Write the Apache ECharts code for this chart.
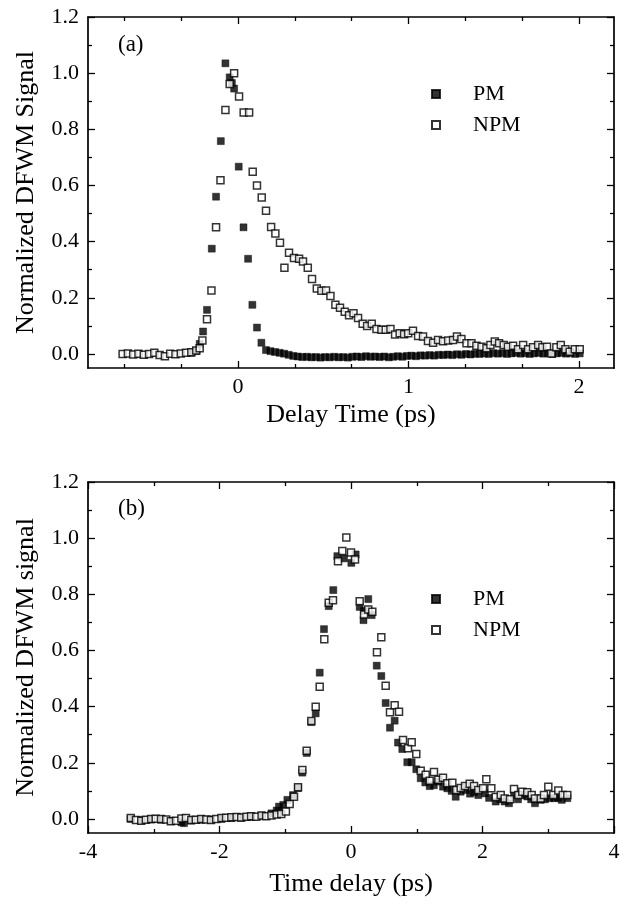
<!DOCTYPE html>
<html>
<head>
<meta charset="utf-8">
<script src="https://cdn.jsdelivr.net/npm/echarts@6/dist/echarts.min.js"></script>
<style>html,body{margin:0;padding:0;background:#fff}#c{width:624px;height:907px}</style>
</head>
<body>
<div id="c"></div>
<script>
// ---------- Panel (a) data: [delay time (ps), normalized signal] ----------
const pmA = [[-0.274,0.004],[-0.245,0.010],[-0.225,0.036],[-0.205,0.080],[-0.182,0.157],[-0.154,0.375],[-0.129,0.560],[-0.101,0.758],[-0.074,1.035],[-0.049,0.985],[-0.036,0.965],[-0.023,0.945],[0.004,0.667],[0.032,0.451],[0.059,0.339],[0.084,0.175],[0.111,0.094],[0.137,0.040],
[0.164,0.014],[0.190,0.010],[0.217,0.007],[0.244,0.004],[0.270,0.001],[0.297,-0.003],[0.324,-0.007],[0.350,-0.009],[0.377,-0.011],[0.404,-0.010],[0.430,-0.012],[0.457,-0.011],[0.484,-0.013],[0.510,-0.011],[0.537,-0.012],[0.564,-0.010],[0.590,-0.012],[0.617,-0.011],[0.644,-0.013],[0.670,-0.010],[0.697,-0.009],[0.724,-0.011],[0.750,-0.008],[0.777,-0.010],[0.804,-0.009],[0.830,-0.011],[0.857,-0.009],[0.884,-0.012],[0.910,-0.010],[0.937,-0.008],[0.964,-0.010],[0.990,-0.007],[1.017,-0.006],[1.044,-0.008],[1.070,-0.005],[1.097,-0.006],[1.124,-0.004],[1.150,-0.006],[1.177,-0.003],[1.204,-0.004],[1.230,-0.002],[1.257,-0.004],[1.284,-0.001],[1.310,-0.003],[1.337,0.000],[1.364,-0.002],[1.390,0.001],[1.417,0.000],[1.444,0.002],[1.470,0.000],[1.497,0.003],[1.524,0.001],[1.550,0.003],[1.577,0.000],[1.604,0.002],[1.630,0.004],[1.657,0.001],[1.684,0.003],[1.710,0.000],[1.737,0.002],[1.764,0.004],[1.790,0.001],[1.817,0.003],[1.844,0.000],[1.870,0.002],[1.897,0.004],[1.924,0.001],[1.950,0.003],[1.977,0.000],[2.004,0.002]];

const npmA = [[-0.677,0.000],[-0.646,0.002],[-0.615,-0.002],[-0.584,0.001],[-0.553,-0.003],[-0.522,0.000],[-0.491,0.004],[-0.460,-0.004],[-0.429,-0.008],[-0.398,0.001],[-0.367,-0.001],[-0.336,0.002],[-0.305,0.004],[-0.274,0.006],[-0.245,0.012],[-0.225,0.020],[-0.209,0.048],[-0.182,0.124],[-0.156,0.226],[-0.129,0.451],[-0.103,0.619],[-0.074,0.869],[-0.049,0.961],[-0.023,1.000],[0.006,0.917],[0.033,0.860],[0.065,0.860],[0.086,0.649],[0.111,0.600],[0.139,0.557],[0.164,0.510],[0.194,0.452],[0.219,0.429],[0.246,0.396],[0.272,0.307],[0.299,0.360],[0.328,0.342],[0.358,0.339],[0.381,0.329],[0.409,0.307],[0.434,0.267],[0.462,0.233],[0.489,0.225],[0.516,0.226],[0.542,0.206],[0.571,0.175],[0.598,0.165],[0.626,0.150],[0.651,0.138],[0.677,0.145],[0.704,0.128],[0.731,0.108],[0.757,0.100],[0.784,0.108],[0.812,0.089],[0.841,0.086],[0.866,0.086],[0.894,0.089],[0.921,0.069],[0.948,0.074],[0.974,0.070],[0.998,0.074],[1.026,0.083],[1.056,0.064],[1.085,0.062],[1.114,0.046],[1.144,0.040],[1.173,0.050],[1.202,0.045],[1.232,0.048],[1.261,0.050],[1.284,0.062],[1.310,0.053],[1.340,0.038],[1.369,0.038],[1.398,0.029],[1.428,0.026],[1.457,0.020],[1.480,0.032],[1.506,0.044],[1.531,0.038],[1.558,0.032],[1.583,0.026],[1.613,0.029],[1.642,0.017],[1.672,0.032],[1.701,0.017],[1.730,0.024],[1.760,0.032],[1.785,0.024],[1.812,0.026],[1.838,0.002],[1.867,0.024],[1.893,0.032],[1.920,0.017],[1.945,0.008],[1.975,0.017],[2.004,0.017]];

// ---------- Panel (b) data: [time delay (ps), normalized signal] ----------
const pmB = [[-3.35,0.000],[-3.19,-0.004],[-3.04,-0.002],[-2.89,-0.003],[-2.74,-0.006],[-2.58,-0.012],[-2.54,-0.015],[-2.43,-0.006],[-2.28,-0.003],[-2.13,-0.002],[-1.97,0.000],[-1.82,0.003],[-1.67,0.004],[-1.52,0.008],[-1.36,0.012],[-1.21,0.020],[-1.13,0.030],[-1.095,0.044],[-1.03,0.050],[-0.968,0.068],[-0.882,0.085],[-0.806,0.110],[-0.740,0.165],[-0.674,0.235],[-0.603,0.345],[-0.537,0.376],[-0.476,0.521],[-0.411,0.676],[-0.339,0.758],[-0.269,0.815],[-0.208,0.936],[-0.106,0.928],[0.005,0.912],[0.071,0.942],[0.132,0.755],[0.190,0.708],[0.200,0.741],[0.263,0.783],[0.315,0.726],[0.391,0.546],[0.461,0.509],[0.527,0.413],[0.593,0.325],[0.664,0.350],[0.715,0.272],[0.780,0.249],[0.856,0.202],[0.923,0.202],[0.993,0.177],[1.060,0.145],[1.130,0.130],[1.197,0.117],[1.260,0.120],[1.328,0.133],[1.400,0.115],[1.465,0.109],[1.530,0.100],[1.592,0.079],[1.668,0.097],[1.744,0.103],[1.810,0.090],[1.870,0.095],[1.936,0.085],[2.038,0.091],[2.100,0.075],[2.201,0.062],[2.270,0.070],[2.337,0.062],[2.403,0.056],[2.479,0.085],[2.540,0.070],[2.605,0.085],[2.680,0.080],[2.740,0.070],[2.798,0.056],[2.885,0.068],[2.950,0.070],[3.022,0.074],[3.092,0.074],[3.150,0.075],[3.205,0.068],[3.290,0.074]];

const npmB = [[-3.35,0.003],[-3.27,-0.004],[-3.19,-0.006],[-3.12,-0.003],[-3.04,0.000],[-2.97,0.001],[-2.89,0.000],[-2.81,-0.002],[-2.74,-0.008],[-2.66,-0.006],[-2.58,0.002],[-2.51,0.003],[-2.43,-0.004],[-2.36,-0.003],[-2.28,0.000],[-2.20,-0.002],[-2.13,-0.004],[-2.05,0.000],[-1.97,0.003],[-1.90,0.004],[-1.82,0.006],[-1.74,0.007],[-1.67,0.005],[-1.59,0.008],[-1.52,0.010],[-1.44,0.008],[-1.36,0.012],[-1.29,0.010],[-1.21,0.012],[-1.13,0.016],[-1.06,0.018],[-0.99,0.027],[-0.933,0.053],[-0.867,0.079],[-0.806,0.113],[-0.740,0.174],[-0.674,0.243],[-0.603,0.349],[-0.537,0.400],[-0.476,0.471],[-0.406,0.640],[-0.339,0.770],[-0.274,0.779],[-0.198,0.918],[-0.132,0.954],[-0.071,1.002],[0.000,0.949],[0.061,0.924],[0.132,0.775],[0.198,0.728],[0.263,0.746],[0.324,0.738],[0.395,0.594],[0.461,0.647],[0.527,0.474],[0.593,0.380],[0.664,0.405],[0.730,0.382],[0.791,0.281],[0.867,0.252],[0.923,0.273],[0.993,0.231],[1.060,0.172],[1.136,0.157],[1.197,0.136],[1.262,0.167],[1.328,0.140],[1.399,0.147],[1.465,0.127],[1.541,0.129],[1.601,0.103],[1.668,0.110],[1.734,0.117],[1.805,0.125],[1.871,0.117],[1.936,0.103],[2.008,0.109],[2.058,0.141],[2.134,0.109],[2.201,0.078],[2.277,0.085],[2.337,0.073],[2.418,0.070],[2.479,0.107],[2.545,0.085],[2.605,0.097],[2.681,0.095],[2.748,0.085],[2.798,0.073],[2.885,0.073],[2.935,0.085],[3.001,0.115],[3.077,0.085],[3.153,0.101],[3.220,0.085],[3.290,0.085]];

// ---------- Tick values ----------
const xTicksA = [0, 1, 2];
const xMinorA = [-2/3, -1/3, 1/3, 2/3, 4/3, 5/3];
const xTicksB = [-4, -2, 0, 2, 4];
const xMinorB = [-3, -1, 1, 3];
const yTicks = [0, 0.2, 0.4, 0.6, 0.8, 1.0, 1.2];
const yMinor = [0.1, 0.3, 0.5, 0.7, 0.9, 1.1];

const FONT = 'Liberation Serif';
const BLACK = '#000';

function axisSet(kind, gi, min, max, majors, minors, fmt, name, nameGap) {
  const pos = kind === 'x' ? ['bottom', 'top'] : ['left', 'right'];
  const base = {type: 'value', gridIndex: gi, min: min, max: max, splitLine: {show: false}};
  const line = {show: true, onZero: false, lineStyle: {color: BLACK, width: 1.7}};
  const noLine = {show: false, onZero: false};
  const tickStyle = {color: BLACK, width: 1.3};
  return [
    Object.assign({}, base, {
      position: pos[0], axisLine: line,
      axisTick: {show: true, inside: true, length: 7, customValues: majors, lineStyle: tickStyle},
      axisLabel: {show: true, customValues: majors, formatter: fmt, color: BLACK, fontFamily: FONT, fontSize: 22, margin: kind === 'x' ? 8 : 9},
      name: name, nameLocation: 'middle', nameGap: nameGap,
      nameTextStyle: {color: BLACK, fontFamily: FONT, fontSize: 26}
    }),
    Object.assign({}, base, {
      position: pos[0], axisLine: noLine,
      axisTick: {show: true, inside: true, length: 4, customValues: minors, lineStyle: tickStyle},
      axisLabel: {show: false}
    }),
    Object.assign({}, base, {
      position: pos[1], axisLine: line,
      axisTick: {show: true, inside: true, length: 7, customValues: majors, lineStyle: tickStyle},
      axisLabel: {show: false}
    }),
    Object.assign({}, base, {
      position: pos[1], axisLine: noLine,
      axisTick: {show: true, inside: true, length: 4, customValues: minors, lineStyle: tickStyle},
      axisLabel: {show: false}
    })
  ];
}

const fmtInt = v => String(Math.round(v));
const fmtY = v => v.toFixed(1);

const xAxes = [].concat(
  axisSet('x', 0, -0.88, 2.205, xTicksA, xMinorA, fmtInt, 'Delay Time (ps)', 34),
  axisSet('x', 1, -4, 4, xTicksB, xMinorB, fmtInt, 'Time delay (ps)', 38)
);
const yAxes = [].concat(
  axisSet('y', 0, -0.05, 1.2, yTicks, yMinor, fmtY, 'Normalized DFWM Signal', 49),
  axisSet('y', 1, -0.05, 1.2, yTicks, yMinor, fmtY, 'Normalized DFWM signal', 49)
);

const filled = {color: BLACK, borderColor: BLACK, borderWidth: 0.5};
const open = {color: '#fff', borderColor: BLACK, borderWidth: 1.5};

function sc(name, data, gi, style, size) {
  return {type: 'scatter', name: name, data: data, xAxisIndex: gi * 4, yAxisIndex: gi * 4,
    symbol: 'rect', symbolSize: size, itemStyle: style, silent: true};
}

const legendBase = {
  data: ['PM', 'NPM'], orient: 'vertical', selectedMode: false,
  itemWidth: 8, itemHeight: 8, itemGap: 9,
  textStyle: {color: BLACK, fontFamily: FONT, fontSize: 22, padding: [0, 0, 0, 28]}
};

const option = {
  animation: false,
  backgroundColor: '#fff',
  grid: [
    {left: 88, top: 17, width: 526, height: 351},
    {left: 88, top: 482, width: 526, height: 351}
  ],
  title: [
    {text: '(a)', left: 113, top: 28, textStyle: {color: BLACK, fontFamily: FONT, fontSize: 23, fontWeight: 'normal'}},
    {text: '(b)', left: 113, top: 492, textStyle: {color: BLACK, fontFamily: FONT, fontSize: 23, fontWeight: 'normal'}}
  ],
  legend: [
    Object.assign({}, legendBase, {left: 426, top: 78}),
    Object.assign({}, legendBase, {left: 426, top: 583})
  ],
  xAxis: xAxes,
  yAxis: yAxes,
  series: [
    sc('PM', pmA, 0, filled, 7),
    sc('NPM', npmA, 0, open, 7),
    sc('PM', pmB, 1, filled, 7),
    sc('NPM', npmB, 1, open, 7)
  ]
};

const chart = echarts.init(document.getElementById('c'), null, {renderer: 'canvas'});
chart.setOption(option);
</script>
</body>
</html>
